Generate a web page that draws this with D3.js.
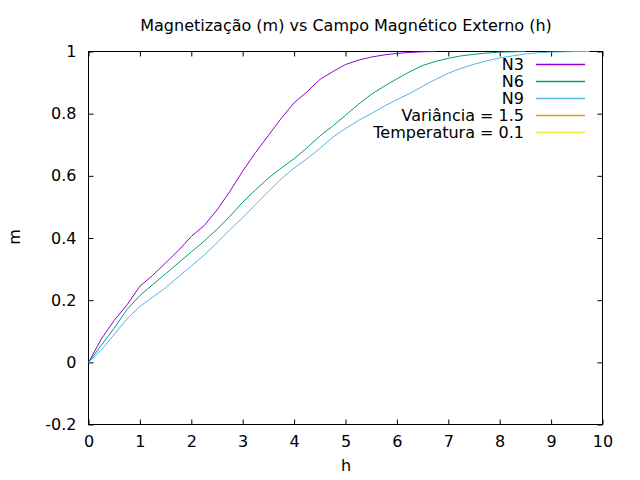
<!DOCTYPE html>
<html>
<head>
<meta charset="utf-8">
<script src="https://cdn.jsdelivr.net/npm/d3@7"></script>
<style>
  body { margin: 0; background: #fff; }
  text { font-family: "DejaVu Sans", sans-serif; fill: #000; }
</style>
</head>
<body>
<svg class="chart" width="640" height="480"></svg>
<script>
// h values sampled every 0.25
var hN3 = [0,0.25,0.5,0.75,1,1.25,1.5,1.75,2,2.25,2.5,2.75,3,3.25,3.5,3.75,4,4.25,4.5,4.75,5,5.25,5.5,5.75,6,6.25,6.5,6.75];
var mN3 = [0,0.075,0.135,0.185,0.245,0.28,0.32,0.36,0.405,0.44,0.49,0.55,0.615,0.675,0.73,0.785,0.835,0.87,0.91,0.935,0.958,0.972,0.982,0.989,0.994,0.997,0.999,1.0];

var hN6 = [0,0.25,0.5,0.75,1,1.25,1.5,1.75,2,2.25,2.5,2.75,3,3.25,3.5,3.75,4,4.25,4.5,4.75,5,5.25,5.5,5.75,6,6.25,6.5,6.75,7,7.25,7.5,7.75,8,8.25,8.5];
var mN6 = [0,0.055,0.11,0.17,0.215,0.25,0.285,0.32,0.355,0.39,0.428,0.47,0.515,0.555,0.593,0.625,0.655,0.69,0.728,0.76,0.795,0.83,0.862,0.888,0.912,0.935,0.955,0.968,0.978,0.986,0.991,0.995,0.998,0.999,1.0];

var hN9 = [0,0.25,0.5,0.75,1,1.25,1.5,1.75,2,2.25,2.5,2.75,3,3.25,3.5,3.75,4,4.25,4.5,4.75,5,5.25,5.5,5.75,6,6.25,6.5,6.75,7,7.25,7.5,7.75,8,8.25,8.5,8.75,9,9.25,9.5,9.75];
var mN9 = [0,0.04,0.09,0.14,0.18,0.21,0.24,0.275,0.31,0.345,0.385,0.427,0.465,0.508,0.55,0.59,0.625,0.655,0.688,0.724,0.752,0.778,0.8,0.824,0.845,0.865,0.888,0.91,0.93,0.946,0.959,0.97,0.979,0.986,0.992,0.996,0.998,0.999,1.0,1.0];

var legendLabels = ["N3", "N6", "N9", "Variância = 1.5", "Temperatura = 0.1"];
var legendColors = ["#9400d3", "#009e73", "#56b4e9", "#e69f00", "#f0e442"];

var xTicks = [0,1,2,3,4,5,6,7,8,9,10];
var yTicks = [-0.2,0,0.2,0.4,0.6,0.8,1];

var series = [
  {h: hN3, m: mN3, color: legendColors[0]},
  {h: hN6, m: mN6, color: legendColors[1]},
  {h: hN9, m: mN9, color: legendColors[2]}
];

var plotL = 88.5, plotR = 602.5, plotT = 51.5, plotB = 424.5;

var svg = d3.select("svg.chart");

var x = d3.scaleLinear().domain([0, 10]).range([plotL, plotR]);
var y = d3.scaleLinear().domain([-0.2, 1]).range([plotB, plotT]);

// gnuplot style labels: plain hyphen for negatives
function yLabel(d){ return String(+d.toFixed(1)); }

// ticks on all four sides, pointing inward
svg.append("g").attr("transform", "translate(0," + plotB + ")")
   .call(d3.axisBottom(x).tickValues(xTicks).tickSizeInner(-5).tickSizeOuter(0).tickPadding(11).tickFormat(d3.format("d")));
svg.append("g").attr("transform", "translate(0," + plotT + ")")
   .call(d3.axisTop(x).tickValues(xTicks).tickSizeInner(-5).tickSizeOuter(0).tickFormat(""));
svg.append("g").attr("transform", "translate(" + plotL + ",0)")
   .call(d3.axisLeft(y).tickValues(yTicks).tickSizeInner(-5).tickSizeOuter(0).tickPadding(12).tickFormat(yLabel));
svg.append("g").attr("transform", "translate(" + plotR + ",0)")
   .call(d3.axisRight(y).tickValues(yTicks).tickSizeInner(-5).tickSizeOuter(0).tickFormat(""));

svg.selectAll(".domain").remove();
svg.selectAll(".tick line").attr("stroke", "#000");
svg.selectAll(".tick text").style("font-size", "16px").style("font-family", "DejaVu Sans").attr("fill", "#000");

svg.append("rect")
   .attr("x", plotL).attr("y", plotT)
   .attr("width", plotR - plotL).attr("height", plotB - plotT)
   .attr("fill", "none").attr("stroke", "#000").attr("stroke-width", 1);

var line = d3.line()
  .x(function(d){ return x(d[0]); })
  .y(function(d){ return y(d[1]); });

svg.selectAll("path.curve")
   .data(series)
   .enter()
   .append("path")
   .attr("class", "curve")
   .attr("fill", "none")
   .attr("stroke", function(d){ return d.color; })
   .attr("stroke-width", 1)
   .attr("d", function(d){ return line(d.h.map(function(h, i){ return [h, d.m[i]]; })); });

// legend
var legend = svg.append("g");
legend.selectAll("text")
  .data(legendLabels)
  .enter()
  .append("text")
  .attr("x", 524)
  .attr("y", function(d, i){ return 64.5 + i * 17; })
  .attr("dy", "0.36em")
  .attr("text-anchor", "end")
  .style("font-size", "16px")
  .text(function(d){ return d; });
legend.selectAll("line")
  .data(legendColors)
  .enter()
  .append("line")
  .attr("x1", 536).attr("x2", 585)
  .attr("y1", function(d, i){ return 64.5 + i * 17; })
  .attr("y2", function(d, i){ return 64.5 + i * 17; })
  .attr("stroke", function(d){ return d; })
  .attr("stroke-width", 1.3);

svg.append("text")
   .attr("x", 346).attr("y", 31)
   .attr("text-anchor", "middle")
   .style("font-size", "16px")
   .text("Magnetização (m) vs Campo Magnético Externo (h)");

svg.append("text")
   .attr("x", 346).attr("y", 471)
   .attr("text-anchor", "middle")
   .style("font-size", "16px")
   .text("h");

svg.append("text")
   .attr("transform", "translate(20,237) rotate(-90)")
   .attr("text-anchor", "middle")
   .style("font-size", "16px")
   .text("m");
</script>
</body>
</html>
